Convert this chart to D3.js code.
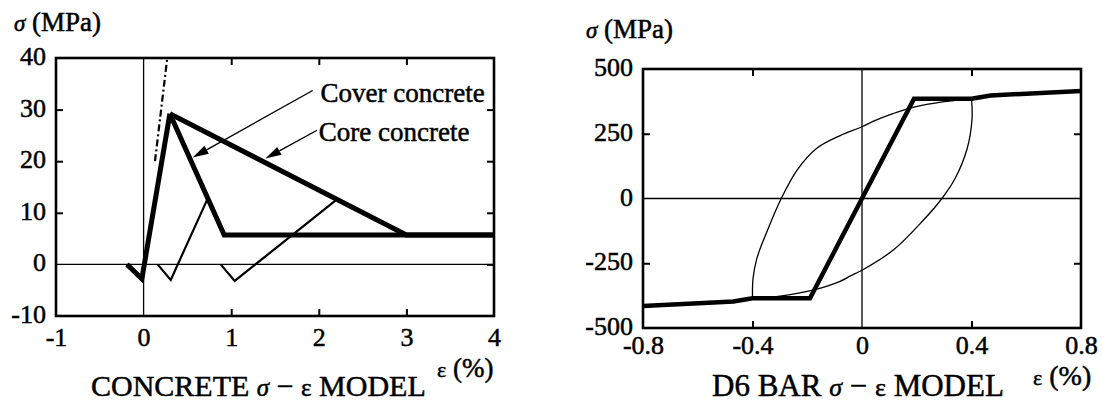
<!DOCTYPE html>
<html>
<head>
<meta charset="utf-8">
<script src="https://cdn.jsdelivr.net/npm/d3@7"></script>
<style>
  html, body { margin: 0; padding: 0; background: #fff; }
  svg text { font-family: "Liberation Serif", "DejaVu Serif", serif !important; fill: #000; stroke: #000; stroke-width: 0.5px; }
</style>
</head>
<body>
<div id="chart"></div>
<script>
// ---- concrete model (left) : strain in %, stress in MPa
var concXTicks = [-1, 0, 1, 2, 3, 4];
var concYTicks = [-10, 0, 10, 20, 30, 40];
var concRise = [[-0.19, 0], [-0.02, -2.8], [0.30, 29.2]];
var coverConcrete = [[0.30, 29.2], [0.92, 5.7], [4.0, 5.7]];
var coreConcrete = [[0.30, 29.2], [3.0, 5.7], [4.0, 5.7]];
var reload1 = [[0.16, 0], [0.31, -3], [0.73, 12.7]];
var reload2 = [[0.88, 0], [1.04, -3.2], [2.2, 12.5]];
var initTangent = [[0.13, 20], [0.27, 40]];
var concLabels = [
  { text: "Cover concrete", at: [2.02, 31.4], from: [1.93, 33.7], tip: [0.56, 20.7] },
  { text: "Core concrete", at: [2.0, 24.0], from: [1.98, 26.0], tip: [1.39, 20.5] }
];

// ---- D6 bar model (right)
var barXTicks = [-0.8, -0.4, 0, 0.4, 0.8];
var barYTicks = [-500, -250, 0, 250, 500];
var barEnvelope = [[-0.8, -415], [-0.47, -398], [-0.40, -385], [-0.19, -385],
  [0.19, 385], [0.40, 385], [0.47, 398], [0.8, 415]];
var loopUpper = [[-0.40, -385], [-0.398, -308], [-0.384, -231], [-0.347, -127], [-0.295, 0],
  [-0.237, 110], [-0.164, 195], [-0.08, 243], [0, 277], [0.04, 298], [0.113, 328],
  [0.186, 352], [0.30, 374], [0.40, 385]];
var loopLower = [[0.40, 385], [0.402, 308], [0.384, 192], [0.34, 77], [0.292, 0],
  [0.223, -85], [0.113, -200], [0, -277], [-0.044, -300], [-0.08, -320],
  [-0.183, -355], [-0.30, -377], [-0.40, -385]];

var svg = d3.select("#chart").append("svg")
  .attr("width", 1102).attr("height", 404)
  .style("display", "block");

function panel(opt) {
  var x = d3.scaleLinear().domain(opt.xDomain).range([opt.left, opt.right]);
  var y = d3.scaleLinear().domain(opt.yDomain).range([opt.bottom, opt.top]);
  var g = svg.append("g");
  var inX = opt.xTicks.slice(1, -1).filter(function (d) { return d !== 0; });
  var inY = opt.yTicks.slice(1, -1).filter(function (d) { return d !== 0; });

  // zero lines
  g.append("line").attr("x1", x(0)).attr("x2", x(0)).attr("y1", opt.top).attr("y2", opt.bottom)
    .attr("stroke", "#000").attr("stroke-width", 1.3);
  g.append("line").attr("x1", opt.left).attr("x2", opt.right).attr("y1", y(0)).attr("y2", y(0))
    .attr("stroke", "#000").attr("stroke-width", 1.3);

  // inward tick marks on all four sides
  var tk = 7;
  g.append("g").attr("transform", "translate(0," + opt.bottom + ")")
    .call(d3.axisBottom(x).tickValues(inX).tickFormat("").tickSize(-tk));
  g.append("g").attr("transform", "translate(0," + opt.top + ")")
    .call(d3.axisTop(x).tickValues(inX).tickFormat("").tickSize(-tk));
  g.append("g").attr("transform", "translate(" + opt.left + ",0)")
    .call(d3.axisLeft(y).tickValues(inY).tickFormat("").tickSize(-tk));
  g.append("g").attr("transform", "translate(" + opt.right + ",0)")
    .call(d3.axisRight(y).tickValues(opt.rightTicks).tickFormat("").tickSize(-tk));
  g.selectAll(".domain").remove();
  g.selectAll(".tick line").attr("stroke", "#000").attr("stroke-width", 2);

  // tick labels
  var xl = g.append("g").attr("transform", "translate(0," + opt.bottom + ")")
    .call(d3.axisBottom(x).tickValues(opt.xTicks).tickSize(0).tickPadding(opt.xPad)
      .tickFormat(function (d) { return String(d); }));
  var yl = g.append("g").attr("transform", "translate(" + opt.left + ",0)")
    .call(d3.axisLeft(y).tickValues(opt.yTicks).tickSize(0).tickPadding(opt.yPad)
      .tickFormat(function (d) { return String(d); }));
  xl.select(".domain").remove();
  yl.select(".domain").remove();
  xl.attr("font-family", null).attr("font-size", null);
  yl.attr("font-family", null).attr("font-size", null);
  g.selectAll(".tick text").style("font-size", opt.tickSize + "px");
  yl.selectAll(".tick text").attr("dy", "0.25em");

  // frame
  g.append("rect").attr("x", opt.left).attr("y", opt.top)
    .attr("width", opt.right - opt.left).attr("height", opt.bottom - opt.top)
    .attr("fill", "none").attr("stroke", "#000").attr("stroke-width", 2.6);

  return { x: x, y: y, g: g };
}

function drawLine(p, pts, w, dash, curve) {
  var line = d3.line().x(function (d) { return p.x(d[0]); }).y(function (d) { return p.y(d[1]); })
    .curve(curve || d3.curveLinear);
  p.g.append("path").attr("d", line(pts)).attr("fill", "none").attr("stroke", "#000")
    .attr("stroke-width", w).attr("stroke-linejoin", "miter")
    .attr("stroke-dasharray", dash || null);
}

// ---------- left panel
var L = panel({
  left: 56, right: 494, top: 58, bottom: 316,
  xDomain: [-1, 4], yDomain: [-10, 40],
  xTicks: concXTicks, yTicks: concYTicks, rightTicks: [0, 10, 20, 30],
  xPad: 12, yPad: 10, tickSize: 26
});
drawLine(L, reload1, 2.2);
drawLine(L, reload2, 2.2);
drawLine(L, initTangent, 2.2, "7,3,2,3");
drawLine(L, coreConcrete, 5);
drawLine(L, coverConcrete, 5);
drawLine(L, concRise, 5);

concLabels.forEach(function (a) {
  var x1 = L.x(a.from[0]), y1 = L.y(a.from[1]), x2 = L.x(a.tip[0]), y2 = L.y(a.tip[1]);
  var ang = Math.atan2(y2 - y1, x2 - x1), len = 16, half = 4.5;
  var bx = x2 - len * Math.cos(ang), by = y2 - len * Math.sin(ang);
  L.g.append("line").attr("x1", x1).attr("y1", y1).attr("x2", bx).attr("y2", by)
    .attr("stroke", "#000").attr("stroke-width", 1.4);
  L.g.append("path").attr("d", "M" + x2 + "," + y2 +
      "L" + (bx + half * Math.sin(ang)) + "," + (by - half * Math.cos(ang)) +
      "L" + (bx - half * Math.sin(ang)) + "," + (by + half * Math.cos(ang)) + "Z")
    .attr("fill", "#000");
  L.g.append("text").attr("x", L.x(a.at[0])).attr("y", L.y(a.at[1]))
    .attr("font-size", 27).text(a.text);
});

// ---------- right panel
var R = panel({
  left: 643, right: 1081, top: 69, bottom: 328,
  xDomain: [-0.8, 0.8], yDomain: [-500, 500],
  xTicks: barXTicks, yTicks: barYTicks, rightTicks: [-250, 250],
  xPad: 8, yPad: 10, tickSize: 26
});
drawLine(R, loopUpper, 1.3, null, d3.curveCatmullRom.alpha(0.5));
drawLine(R, loopLower, 1.3, null, d3.curveCatmullRom.alpha(0.5));
drawLine(R, barEnvelope, 4.5);

// ---------- axis titles and captions
function label(x, y, size, parts) {
  var t = svg.append("text").attr("x", x).attr("y", y).attr("font-size", size);
  parts.forEach(function (p) {
    t.append("tspan").attr("font-style", p.i ? "italic" : "normal")
      .attr("font-size", p.s || null).text(p.t);
  });
  return t;
}
label(14, 31, 27, [{ t: "σ", i: true, s: 23 }, { t: " (MPa)" }]);
label(586, 38, 27, [{ t: "σ", i: true, s: 23 }, { t: " (MPa)" }]);
label(437, 377, 27, [{ t: "ε", s: 22 }, { t: " (%)" }]);
label(1033, 385, 28, [{ t: "ε", s: 22 }, { t: " (%)" }]);
label(91, 396, 30, [{ t: "CONCRETE " }, { t: "σ", i: true, s: 25 }, { t: " − " }, { t: "ε", s: 25 }, { t: "  MODEL" }]);
label(712, 396, 31, [{ t: "D6 BAR " }, { t: "σ", i: true, s: 26 }, { t: " − " }, { t: "ε", s: 26 }, { t: "  MODEL" }]);
</script>
</body>
</html>
